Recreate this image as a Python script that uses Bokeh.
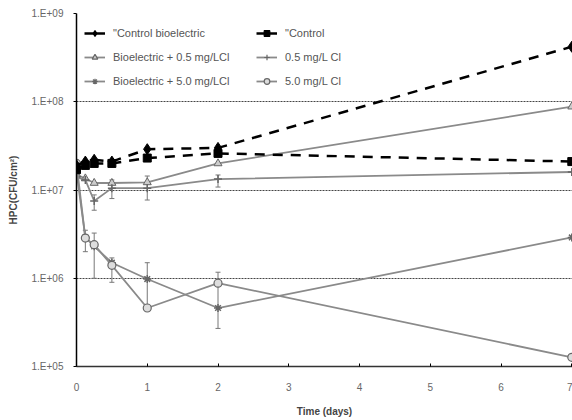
from bokeh.plotting import figure
from bokeh.models import (Legend, LegendItem, FixedTicker, Whisker, ColumnDataSource,
                          TeeHead, Range1d)
from bokeh.embed import file_html
from bokeh.resources import INLINE

days = [0, 0.125, 0.25, 0.5, 1, 2, 7]
control_bioelectric = [1.9e7, 2.1e7, 2.2e7, 2.1e7, 2.9e7, 3.0e7, 4.2e8]
control = [1.7e7, 1.9e7, 2.0e7, 2.0e7, 2.3e7, 2.6e7, 2.1e7]
bio_05 = [1.5e7, 1.35e7, 1.2e7, 1.2e7, 1.22e7, 2.0e7, 8.8e7]
cl_05 = [1.4e7, 1.3e7, 7.5e6, 1.05e7, 1.05e7, 1.33e7, 1.6e7]
bio_50 = [1.6e7, 2.9e6, 2.3e6, 1.5e6, 9.8e5, 4.6e5, 2.9e6]
cl_50 = [2.0e7, 2.85e6, 2.4e6, 1.4e6, 4.6e5, 8.8e5, 1.27e5]

# error bars (day, lower, upper)
err_days = [0.125, 0.25, 0.5, 1, 2, 0.25, 0.5, 1, 2]
err_lower = [2.0e6, 1.0e6, 9.0e5, 4.9e5, 2.7e5, 5.9e6, 8.0e6, 7.7e6, 1.08e7]
err_upper = [3.5e6, 3.25e6, 1.7e6, 1.5e6, 1.17e6, 8.8e6, 1.3e7, 1.44e7, 1.48e7]

y_ticks = [1e5, 1e6, 1e7, 1e8, 1e9]
y_labels = ["1.E+05", "1.E+06", "1.E+07", "1.E+08", "1.E+09"]
x_ticks = [0, 1, 2, 3, 4, 5, 6, 7]

FONT = "Liberation Sans"
GRAY = "#8a8a8a"

p = figure(width=572, height=420, y_axis_type="log",
           x_range=Range1d(0, 7.01), y_range=Range1d(1e5, 1e9),
           output_backend="svg", toolbar_location=None,
           min_border_left=76, min_border_right=0, min_border_top=13, min_border_bottom=54)
p.outline_line_color = None
p.background_fill_color = "white"

# grid
p.xgrid.visible = False
p.ygrid.ticker = FixedTicker(ticks=y_ticks)
p.ygrid.grid_line_color = "#444444"
p.ygrid.grid_line_dash = "2 1"
p.ygrid.grid_line_width = 1.2

# y axis
p.yaxis.ticker = FixedTicker(ticks=y_ticks, minor_ticks=[])
p.yaxis.major_label_overrides = {t: l for t, l in zip(y_ticks, y_labels)}
p.yaxis.axis_label = "HPC(CFU/cm²)"
p.yaxis.axis_label_text_font = FONT
p.yaxis.axis_label_text_font_style = "bold"
p.yaxis.axis_label_text_font_size = "10px"
p.yaxis.axis_label_standoff = 10
p.yaxis.major_label_text_font = FONT
p.yaxis.major_label_text_font_size = "10px"
p.yaxis.major_label_text_color = "#666666"
p.yaxis.major_tick_out = 3
p.yaxis.major_tick_in = 0
p.yaxis.minor_tick_line_color = None
p.yaxis.axis_line_color = "black"
p.yaxis.axis_line_width = 1.5
p.yaxis.major_label_standoff = 10

# x axis
p.xaxis.ticker = FixedTicker(ticks=x_ticks)
p.xaxis.axis_label = "Time (days)"
p.xaxis.axis_label_text_font = FONT
p.xaxis.axis_label_text_font_style = "bold"
p.xaxis.axis_label_text_font_size = "10px"
p.xaxis.axis_label_standoff = 12
p.xaxis.major_label_text_font = FONT
p.xaxis.major_label_text_font_size = "10px"
p.xaxis.major_label_text_color = "#666666"
p.xaxis.major_label_standoff = 16
p.xaxis.major_tick_out = 0
p.xaxis.major_tick_in = 3
p.xaxis.minor_tick_line_color = None
p.xaxis.axis_line_color = "#333333"
p.xaxis.axis_line_width = 1.5

# error bars
err_src = ColumnDataSource(dict(x=err_days, lo=err_lower, hi=err_upper))
p.add_layout(Whisker(source=err_src, base="x", lower="lo", upper="hi",
                     line_color="#777777", line_width=1,
                     upper_head=TeeHead(size=5, line_color="#777777"),
                     lower_head=TeeHead(size=5, line_color="#777777")))

# gray series
p.line(days, bio_05, line_color=GRAY, line_width=1.8)
p.scatter(days, bio_05, marker="triangle", size=8, line_color="#666666", fill_color="#cccccc")
p.line(days, cl_05, line_color=GRAY, line_width=1.8)
p.scatter(days, cl_05, marker="cross", size=8, line_color="#666666", line_width=1.5)
p.line(days, bio_50, line_color=GRAY, line_width=1.8)
p.scatter(days, bio_50, marker="asterisk", size=8, line_color="#666666", line_width=1.5)
p.line(days, cl_50, line_color=GRAY, line_width=1.8)
p.scatter(days, cl_50, marker="circle", size=8, line_color="#666666", fill_color="#dddddd", line_width=1.2)

# black dashed series
p.line(days, control, line_color="black", line_width=2.5, line_dash="10 8")
p.scatter(days, control, marker="square", size=8, color="black")
p.line(days, control_bioelectric, line_color="black", line_width=2.5, line_dash="10 8")
p.scatter(days, control_bioelectric, marker="diamond", size=11, color="black")

# legend proxies (kept outside the visible range, solid lines as in the key)
def proxy(color, marker, lw, fill, size):
    l = p.line([-5, -4], [1e3, 1e3], line_color=color, line_width=lw)
    s = p.scatter([-5], [1e3], marker=marker, size=size,
                  line_color=color if color == "black" else "#666666",
                  fill_color=fill, line_width=1.2)
    return [l, s]

items1 = [
    LegendItem(label='"Control bioelectric', renderers=proxy("black", "diamond", 2.5, "black", 10)),
    LegendItem(label="Bioelectric + 0.5 mg/LCl", renderers=proxy(GRAY, "triangle", 1.8, "#cccccc", 8)),
    LegendItem(label="Bioelectric + 5.0 mg/LCl", renderers=proxy(GRAY, "asterisk", 1.8, None, 8)),
]
items2 = [
    LegendItem(label='"Control', renderers=proxy("black", "square", 2.5, "black", 8)),
    LegendItem(label="0.5 mg/L Cl", renderers=proxy(GRAY, "cross", 1.8, None, 8)),
    LegendItem(label="5.0 mg/L Cl", renderers=proxy(GRAY, "circle", 1.8, "#dddddd", 8)),
]

for items, loc in ((items1, (8, 275)), (items2, (180, 275))):
    lg = Legend(items=items, location=loc, orientation="vertical",
                border_line_color=None, background_fill_alpha=0,
                label_text_font=FONT, label_text_font_size="11px",
                label_text_color="#555555", glyph_width=21, glyph_height=14,
                label_standoff=8, label_height=20, spacing=4, padding=5, margin=0)
    p.add_layout(lg, "center")

open("out.html", "w").write(file_html(p, INLINE))
